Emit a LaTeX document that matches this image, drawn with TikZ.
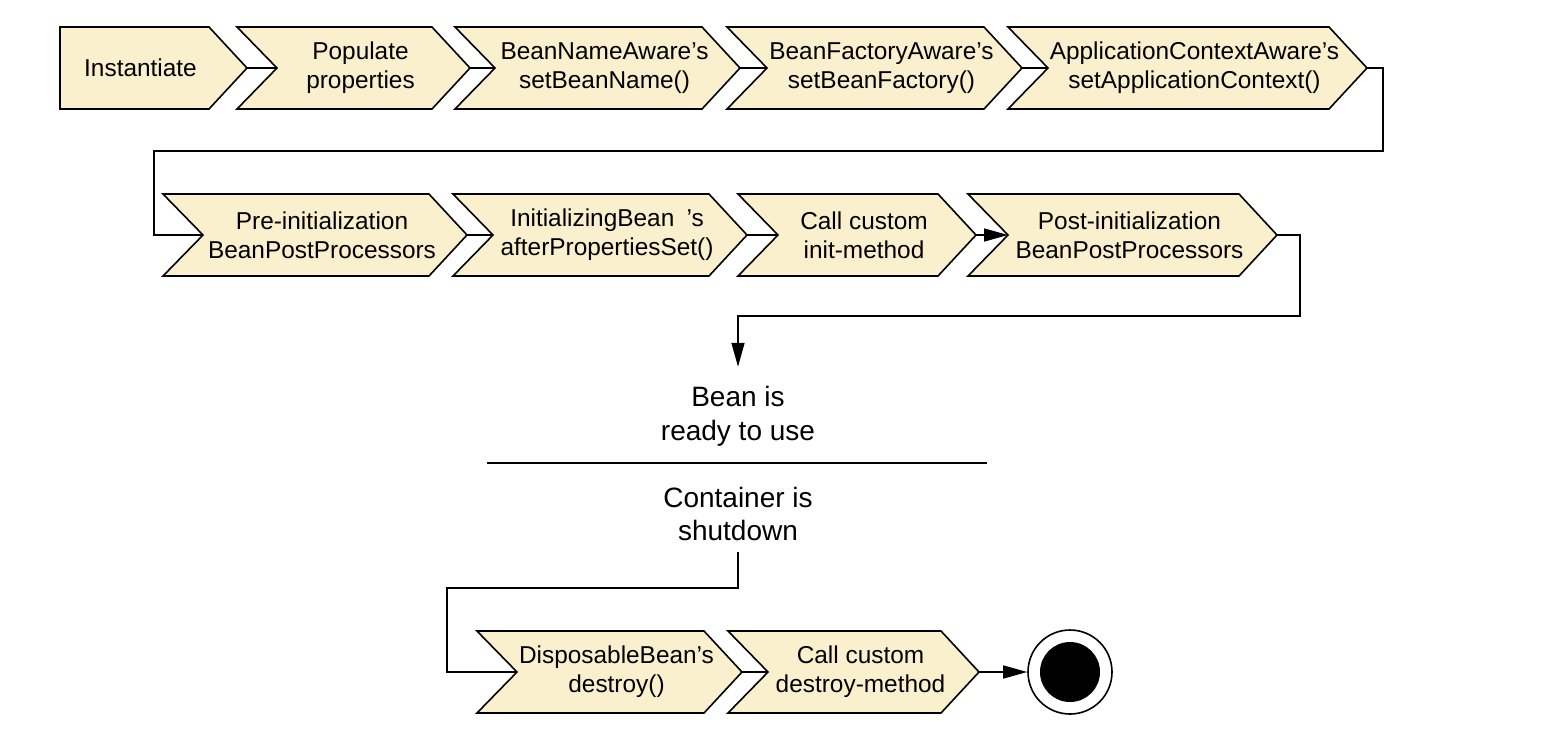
\documentclass[tikz,border=0pt]{standalone}
\usepackage{fontspec}
\setmainfont{Liberation Sans}
\usetikzlibrary{arrows.meta}
\definecolor{chevbg}{RGB}{251,240,205}
\tikzset{
  chevshape/.style={draw=black, fill=chevbg, line width=0.8pt, line join=miter},
  chevtext/.style={align=center, inner sep=0pt, font=\fontsize{12.2pt}{14.5pt}\selectfont},
  bigtext/.style={align=center, inner xsep=0pt, font=\fontsize{14pt}{16.8pt}\selectfont},
  conn/.style={draw=black, line width=0.8pt},
  arr/.style={conn, -{Triangle[length=12pt,width=6.5pt]}},
}
% #1 name, #2 left x, #3 tip x, #4 centre y, #5 notch depth, #6 text
\newcommand\chevron[6]{%
  \draw[chevshape] (#2,#4-41) -- (#3-38,#4-41) -- (#3,#4) -- (#3-38,#4+41)
     -- (#2,#4+41) -- (#2+#5,#4) -- cycle;
  \node[chevtext] (#1) at ({(#2+#5+#3)/2-13},#4) {#6};
  \coordinate (#1-in) at (#2+#5,#4);
  \coordinate (#1-out) at (#3,#4);
}
\begin{document}
\begin{tikzpicture}[x=0.5pt,y=-0.5pt]
\useasboundingbox (0,0) rectangle (1542,746);
% row 1
\chevron{n1}{60}{247}{68}{0}{Instantiate}
\chevron{n2}{237}{470}{68}{40}{Populate\\properties}
\chevron{n3}{455}{740}{68}{40}{BeanNameAware’s\\setBeanName()}
\chevron{n4}{727}{1022}{68}{40}{BeanFactoryAware’s\\setBeanFactory()}
\chevron{n5}{1008}{1367}{68}{40}{ApplicationContextAware’s\\setApplicationContext()}
% row 2
\chevron{n6}{163}{467}{235}{40}{Pre-initialization\\BeanPostProcessors}
\chevron{n7}{453}{747}{235}{40}{InitializingBean\hspace{0.5em}’s\\afterPropertiesSet()}
\chevron{n8}{738}{976}{235}{40}{Call custom\\init-method}
\chevron{n9}{968}{1277}{235}{40}{Post-initialization\\BeanPostProcessors}
% row 3
\chevron{n10}{477}{742}{672}{40}{DisposableBean’s\\destroy()}
\chevron{n11}{728}{979}{672}{40}{Call custom\\destroy-method}

% end state
\node[circle, draw=black, line width=0.8pt, minimum size=42pt, inner sep=0pt] (end) at (1070,672) {};
\node[circle, fill=black, minimum size=30pt, inner sep=0pt] (endin) at (end.center) {};

% texts
\node[bigtext, inner ysep=9.5pt] (ready) at (738,416) {Bean is\\ready to use};
\node[bigtext, inner ysep=5.5pt] (shut) at (738,514) {Container is\\shutdown};
\coordinate (sepL) at (487,463);
\coordinate (sepR) at (987,463);
\draw[conn, line width=0.6pt] (sepL) -- (sepR);

% bend points
\coordinate (b1) at (1383,151);
\coordinate (b2) at (154,235);
\coordinate (b3) at (1300,316);
\coordinate (b4) at (447,588);

% connectors
\draw[conn] (n1-out) -- (n2-in);
\draw[conn] (n2-out) -- (n3-in);
\draw[conn] (n3-out) -- (n4-in);
\draw[conn] (n4-out) -- (n5-in);
\draw[conn] (n5-out) -| (b1) -| (b2) -- (n6-in);
\draw[conn] (n6-out) -- (n7-in);
\draw[conn] (n7-out) -- (n8-in);
\draw[arr] (n8-out) -- (n9-in);
\draw[arr] (n9-out) -| (b3) -| (ready.north);
\draw[conn] (shut.south) |- (b4) |- (n10-in);
\draw[conn] (n10-out) -- (n11-in);
\draw[arr] (n11-out) -- (end);
\end{tikzpicture}
\end{document}
